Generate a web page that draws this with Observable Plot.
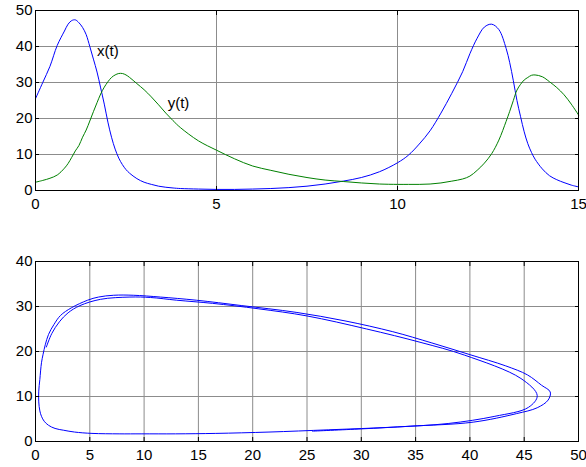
<!DOCTYPE html>
<html>
<head>
<meta charset="utf-8">
<script src="https://cdn.jsdelivr.net/npm/d3@7"></script>
<script src="https://cdn.jsdelivr.net/npm/@observablehq/plot@0.6"></script>
<style>
  html, body { margin: 0; padding: 0; background: #fff; }
  #chart svg { display: block; }
</style>
</head>
<body>
<div id="chart"></div>
<script>
// time samples
const tValues = [0, 0.2, 0.4, 0.6, 0.8, 0.9, 1.0, 1.1, 1.2, 1.3, 1.4, 1.5, 1.6, 1.7, 1.8, 1.9, 2.0, 2.1, 2.2, 2.3, 2.4, 2.5, 2.6, 2.8, 3.0, 3.2, 3.4, 3.6, 3.8, 4.0, 4.5, 5.0, 5.5, 6.0, 6.5, 7.0, 7.5, 8.0, 8.5, 9.0, 9.5, 10.0, 10.3, 10.6, 10.9, 11.2, 11.5, 11.8, 12.0, 12.2, 12.4, 12.6, 12.8, 13.0, 13.1, 13.2, 13.3, 13.4, 13.5, 13.6, 13.7, 13.8, 14.0, 14.2, 14.4, 14.6, 14.8, 15.0];
// prey x(t)
const xValues = [25.5, 30.0, 34.5, 40.3, 44.3, 46.2, 47.2, 47.4, 46.6, 45.3, 43.3, 40.0, 36.5, 32.9, 28.5, 24.0, 19.0, 14.8, 11.5, 9.0, 7.2, 5.8, 4.8, 3.3, 2.3, 1.7, 1.2, 0.9, 0.7, 0.55, 0.4, 0.3, 0.3, 0.4, 0.55, 0.8, 1.2, 1.8, 2.6, 3.6, 5.2, 7.7, 9.8, 12.9, 16.6, 21.5, 27.0, 33.0, 38.0, 42.3, 45.4, 46.2, 44.7, 39.5, 35.5, 30.5, 25.0, 20.5, 16.3, 13.0, 10.6, 8.7, 6.0, 4.1, 3.0, 2.2, 1.5, 1.0];
// predator y(t)
const yValues = [2.3, 2.8, 3.4, 4.3, 6.2, 7.5, 9.2, 11.0, 12.5, 14.8, 16.8, 19.3, 21.9, 24.4, 26.8, 28.7, 30.2, 31.4, 32.1, 32.5, 32.5, 32.1, 31.4, 29.7, 28.0, 26.0, 23.8, 21.5, 19.4, 17.5, 13.8, 11.2, 8.8, 6.8, 5.6, 4.5, 3.6, 2.9, 2.5, 2.1, 1.8, 1.7, 1.7, 1.7, 1.8, 2.1, 2.6, 3.2, 4.0, 5.6, 7.6, 10.2, 14.0, 19.2, 22.0, 25.0, 27.9, 29.5, 30.7, 31.4, 32.0, 32.1, 31.6, 30.2, 28.6, 26.6, 24.0, 21.0];

// tick labels
const tTicks = [0, 5, 10, 15];
const popTicks = [0, 10, 20, 30, 40, 50];
const phaseXTicks = [0, 5, 10, 15, 20, 25, 30, 35, 40, 45, 50];
const phaseYTicks = [0, 10, 20, 30, 40];

// curve labels
const labelNames = ["x(t)", "y(t)"];
const labelT = [1.7, 3.65];
const labelV = [38.6, 24.2];

const data = tValues.map((t, i) => ({t, x: xValues[i], y: yValues[i]}));
const labels = labelNames.map((name, i) => ({name, t: labelT[i], v: labelV[i]}));

const chartStyle = {fontFamily: "'Liberation Sans', Arial, sans-serif", fontSize: "15px", color: "black", background: "white"};
const gridColor = "#8c8c8c";

function boxAxes(xt, yt) {
  return [
    Plot.axisX(xt, {anchor: "bottom", tickSize: -4, tickPadding: 12, label: null, fontSize: 15}),
    Plot.axisX(xt, {anchor: "top", tickSize: -4, tickFormat: () => "", label: null}),
    Plot.axisY(yt, {anchor: "left", tickSize: -4, tickPadding: 7, label: null, fontSize: 15}),
    Plot.axisY(yt, {anchor: "right", tickSize: -4, tickFormat: () => "", label: null}),
    Plot.frame({stroke: "black", strokeWidth: 1})
  ];
}

const timePlot = Plot.plot({
  width: 586, height: 215,
  marginTop: 10, marginBottom: 25, marginLeft: 35, marginRight: 8,
  style: chartStyle,
  x: {domain: [0, 15]},
  y: {domain: [0, 50]},
  marks: [
    Plot.gridX(tTicks, {stroke: gridColor, strokeOpacity: 1, strokeWidth: 1}),
    Plot.gridY(popTicks, {stroke: gridColor, strokeOpacity: 1, strokeWidth: 1}),
    Plot.line(data, {x: "t", y: "x", stroke: "#0000ff", strokeWidth: 1, curve: "catmull-rom"}),
    Plot.line(data, {x: "t", y: "y", stroke: "#008000", strokeWidth: 1, curve: "catmull-rom"}),
    Plot.text(labels, {x: "t", y: "v", text: "name", textAnchor: "start", fontSize: 15, fill: "black"}),
    ...boxAxes(tTicks, popTicks)
  ]
});

const phasePlot = Plot.plot({
  width: 586, height: 252,
  marginTop: 46, marginBottom: 26, marginLeft: 35, marginRight: 8,
  style: chartStyle,
  x: {domain: [0, 50]},
  y: {domain: [0, 40]},
  marks: [
    Plot.gridX(phaseXTicks, {stroke: gridColor, strokeOpacity: 1, strokeWidth: 1}),
    Plot.gridY(phaseYTicks, {stroke: gridColor, strokeOpacity: 1, strokeWidth: 1}),
    Plot.line(data, {x: "x", y: "y", stroke: "#0000ff", strokeWidth: 1, curve: "catmull-rom"}),
    ...boxAxes(phaseXTicks, phaseYTicks)
  ]
});

const chart = document.getElementById("chart");
chart.appendChild(timePlot);
chart.appendChild(phasePlot);
</script>
</body>
</html>
